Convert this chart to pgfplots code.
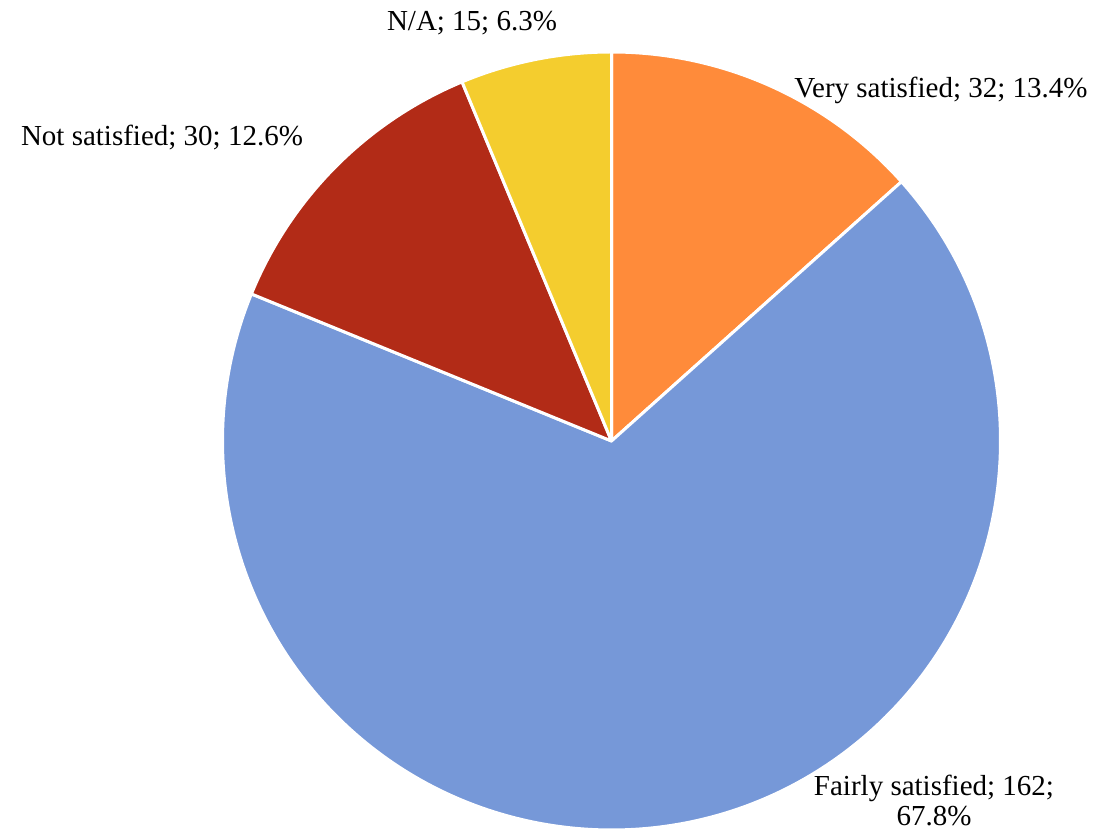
\documentclass[border=0pt]{standalone}
\usepackage{pgfplots}
\pgfplotsset{compat=1.18}
\usepackage{fontspec}
\setmainfont{Liberation Serif}
\definecolor{cvs}{HTML}{FF8B3A}
\definecolor{cfs}{HTML}{7698D8}
\definecolor{cns}{HTML}{B22B17}
\definecolor{cna}{HTML}{F4CD2E}
\begin{document}
\begin{tikzpicture}
\begin{axis}[at={(0,0)},anchor=south west,x=1pt,y=1pt,xmin=0,xmax=1099,ymin=0,ymax=832,hide axis,clip=false,scale only axis]
% values: Very satisfied 32, Fairly satisfied 162, Not satisfied 30, N/A 15 (total 239)
\fill[cvs,draw=white,line width=3pt,line join=round] (axis cs:611.5,391) -- ++(90:389pt) arc[start angle=90,end angle={90-(32)/239*360},radius=389pt] -- cycle;
\fill[cfs,draw=white,line width=3pt,line join=round] (axis cs:611.5,391) -- ++({90-(32)/239*360}:389pt) arc[start angle={90-(32)/239*360},end angle={90-(32+162)/239*360},radius=389pt] -- cycle;
\fill[cns,draw=white,line width=3pt,line join=round] (axis cs:611.5,391) -- ++({90-(32+162)/239*360}:389pt) arc[start angle={90-(32+162)/239*360},end angle={90-(32+162+30)/239*360},radius=389pt] -- cycle;
\fill[cna,draw=white,line width=3pt,line join=round] (axis cs:611.5,391) -- ++({90-(32+162+30)/239*360}:389pt) arc[start angle={90-(32+162+30)/239*360},end angle={90-(32+162+30+15)/239*360},radius=389pt] -- cycle;
\begin{scope}[every node/.style={font=\fontsize{29}{30}\selectfont,inner sep=0pt,anchor=base}]
\node at (axis cs:472,801) {N/A; 15; 6.3\%};
\node at (axis cs:941,734) {Very satisfied; 32; 13.4\%};
\node at (axis cs:162,686) {Not satisfied; 30; 12.6\%};
\node at (axis cs:934,37) {Fairly satisfied; 162;};
\node at (axis cs:934,7) {67.8\%};
\end{scope}
\end{axis}
\pgfresetboundingbox
\path (0,0) rectangle (1099pt,832pt);
\end{tikzpicture}
\end{document}
